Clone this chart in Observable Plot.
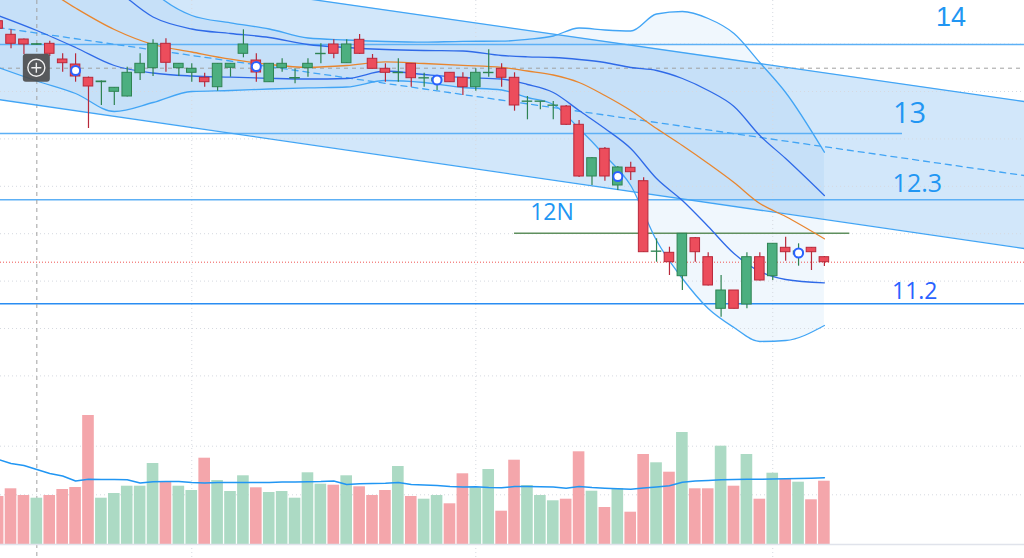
<!DOCTYPE html>
<html><head><meta charset="utf-8">
<script src="https://cdn.jsdelivr.net/npm/d3@7"></script>
<script src="https://cdn.jsdelivr.net/npm/@observablehq/plot@0.6"></script>
<style>
html,body{margin:0;padding:0;background:#fff;overflow:hidden}
#wrap{position:relative;width:1024px;height:558px}
#wrap svg{display:block}
</style></head><body><div id="wrap"></div>
<script>
// ---- candles (index 1..65) ----
const opens = [14.113,13.977,13.93,13.877,13.887,13.73,13.68,13.547,13.503,13.407,13.36,13.593,13.643,13.887,13.643,13.597,13.547,13.453,13.647,13.787,13.72,13.503,13.643,13.54,13.643,13.783,13.88,13.693,13.927,13.737,13.637,13.593,13.687,13.54,13.51,13.597,13.547,13.453,13.593,13.637,13.547,13.307,13.307,13.267,13.26,13.077,12.56,12.837,12.47,12.647,12.513,11.807,11.797,11.563,11.943,11.753,11.237,11.42,11.28,11.753,11.563,11.847,11.78,11.847,11.753];
const highs = [14.13,14.027,13.935,13.89,13.913,13.787,13.787,13.555,13.515,13.45,13.653,13.787,13.927,13.937,13.69,13.687,13.593,13.69,13.69,14.027,13.787,13.69,13.737,13.637,13.737,13.887,13.927,13.927,13.98,13.78,13.687,13.737,13.69,13.593,13.55,13.6,13.597,13.637,13.827,13.687,13.597,13.36,13.31,13.31,13.27,13.12,12.75,12.85,12.66,12.703,12.547,11.937,11.853,11.99,11.95,11.797,11.57,11.42,11.797,11.797,11.89,11.953,11.887,11.85,11.76];
const lows = [14.02,13.837,13.78,13.87,13.76,13.603,13.503,13.04,13.27,13.27,13.355,13.52,13.56,13.603,13.56,13.503,13.453,13.413,13.553,13.747,13.503,13.5,13.603,13.487,13.553,13.687,13.737,13.69,13.78,13.635,13.503,13.503,13.453,13.453,13.42,13.5,13.37,13.413,13.553,13.453,13.213,13.127,13.227,13.127,13.07,12.55,12.47,12.513,12.42,12.52,11.8,11.703,11.57,11.42,11.703,11.465,11.153,11.235,11.237,11.515,11.52,11.713,11.663,11.62,11.66];
const closes = [14.037,13.887,13.88,13.883,13.787,13.693,13.56,13.46,13.51,13.447,13.597,13.687,13.887,13.697,13.687,13.637,13.503,13.687,13.687,13.88,13.6,13.687,13.687,13.545,13.687,13.787,13.787,13.88,13.787,13.637,13.597,13.597,13.543,13.543,13.54,13.503,13.453,13.597,13.597,13.547,13.27,13.31,13.31,13.27,13.077,12.56,12.743,12.56,12.65,12.603,11.803,11.81,11.703,11.987,11.803,11.47,11.42,11.237,11.753,11.52,11.887,11.803,11.81,11.803,11.703];
const volumes = [480,557,490,463,490,550,570,1290,463,510,583,583,810,623,583,540,863,640,530,687,567,520,530,463,717,603,593,687,577,490,540,780,480,453,490,407,707,567,750,333,843,590,490,437,453,927,533,370,560,323,900,817,723,1120,557,557,983,583,900,453,713,650,623,447,633];
const volumeMA = [850,810,790,750,710,685,635,653,650,650,647,615,627,630,630,620,615,620,620,620,620,620,625,625,628,630,635,600,607,610,612,620,600,595,590,580,575,578,570,567,580,580,577,575,563,580,570,563,557,553,565,575,587,623,635,640,647,650,652,653,655,658,660,663,667];
const markerIdx = [7,21,35,49,63];

// ---- double Bollinger bands (sampled) ----
const bandIdx = [1,4,7,10,13,16,19,22,25,28,31,34,37,40,42,44,46,48,50,52,54,56,58,60,62,65];
const bbBasis = [14.72,14.49,14.245,14.03,13.88,13.805,13.733,13.68,13.652,13.67,13.707,13.69,13.672,13.652,13.615,13.575,13.50,13.37,13.22,13.04,12.87,12.69,12.50,12.29,12.16,11.937];
const bbOuterUpper = [15.72,15.47,15.10,14.85,14.41,14.17,14.097,14.035,13.945,13.925,13.91,13.903,13.912,13.913,13.932,13.965,14.045,14.025,14.015,14.185,14.21,14.14,13.99,13.70,13.40,12.803];
const bbInnerUpper = [15.25,14.98,14.67,14.44,14.155,14.035,13.99,13.95,13.88,13.85,13.83,13.82,13.815,13.77,13.757,13.75,13.73,13.70,13.65,13.62,13.54,13.42,13.26,12.97,12.74,12.37];
const bbInnerLower = [14.17,14.02,13.85,13.67,13.595,13.565,13.553,13.542,13.535,13.54,13.615,13.58,13.55,13.535,13.48,13.40,13.22,13.04,12.84,12.54,12.32,12.06,11.79,11.61,11.53,11.497];
const bbOuterLower = [13.65,13.515,13.39,13.21,13.30,13.41,13.42,13.435,13.447,13.455,13.52,13.50,13.45,13.425,13.35,13.28,13.04,12.77,12.47,11.92,11.54,11.24,11.05,10.91,10.92,11.07];

// ---- regression channel ----
const regIdx = [1, 81];
const regUpper = [14.78, 13.30];
const regMid = [14.05, 12.56];
const regLower = [13.33, 11.83];

// ---- horizontal levels & labels ----
const levelPrices = [13.88, 12.99, 12.327, 11.287];
const levelEnds = [81, 71.05, 81, 81];
const levelLabels = ["14", "13", "12.3", "11.2"];
const levelLabelIdx = [74.8, 71.6, 72.2, 72.0];
const levelLabelPrice = [14.156, 13.19, 12.49, 11.41];
const greenLevel = {price: 11.993, from: 41.0, to: 66.97, label: "12N", labelIdx: 43.9, labelPrice: 12.20};
const gridIdx = [16, 38, 61];
const gridPrices = [13.884, 13.41, 12.936, 12.462, 11.988, 11.514, 11.04, 10.566];
const volGrid = [497, 983];
const cross = {idx: 4, price: 13.643};

// ---- build tables ----
const candles = opens.map((o, k) => ({
  i: k + 1, open: o, high: highs[k], low: lows[k], close: closes[k],
  volume: volumes[k], vma: volumeMA[k], up: closes[k] >= o
}));
const bands = bandIdx.map((i, k) => ({i, basis: bbBasis[k], ou: bbOuterUpper[k], iu: bbInnerUpper[k], il: bbInnerLower[k], ol: bbOuterLower[k]}));
const reg = regIdx.map((i, k) => ({i, up: regUpper[k], mid: regMid[k], lo: regLower[k]}));
const levels = levelPrices.map((p, k) => ({p, end: levelEnds[k]}));
const labels = levelLabels.map((t, k) => ({t, i: levelLabelIdx[k], p: levelLabelPrice[k], size: [27, 29, 25, 23][k], color: k === 3 ? "#2962ff" : "#2196f3"}));
const markers = candles.filter(d => markerIdx.includes(d.i));

const UPF = "#4caf80", UPS = "#2e8352", DNF = "#ec4d5c", DNS = "#b8283a";
const xDom = [1.185, 80.5];
const FONT = "Open Sans, Liberation Sans, sans-serif";

const price = Plot.plot({
  width: 1024, height: 400, margin: 0,
  x: {domain: xDom, axis: null},
  y: {domain: [10.32, 14.32], axis: null},
  marks: [
    Plot.areaY(reg, {x: "i", y1: "lo", y2: "up", fill: "#1e88e5", fillOpacity: 0.2, clip: true}),
    Plot.areaY(bands, {x: "i", y1: "ol", y2: "ou", curve: "monotone-x", fill: "#1e88e5", fillOpacity: 0.065, clip: true}),
    Plot.ruleY(gridPrices, {stroke: "#d6d9e0", strokeDasharray: "1,3"}),
    Plot.ruleX(gridIdx, {stroke: "#d6d9e0", strokeDasharray: "1,3"}),
    Plot.ruleY(levels, {y: "p", x1: d => 0, x2: "end", stroke: (d, k) => k === 3 ? "#2a8df2" : "#5db0f5", strokeWidth: 1.6, clip: true}),
    Plot.ruleY([greenLevel], {y: "price", x1: "from", x2: "to", stroke: "#5f8f5e", strokeWidth: 1.6}),
    Plot.ruleY([cross], {y: "price", stroke: "#a0a0a0", strokeDasharray: "4,4"}),
    Plot.ruleX([cross], {x: "idx", stroke: "#a0a0a0", strokeDasharray: "4,4"}),
    Plot.ruleY([closes[closes.length - 1]], {stroke: "#ef5350", strokeDasharray: "1,2", strokeWidth: 1}),
    Plot.line(reg, {x: "i", y: "up", stroke: "#42a5f5", strokeWidth: 1.3, clip: true}),
    Plot.line(reg, {x: "i", y: "lo", stroke: "#42a5f5", strokeWidth: 1.3, clip: true}),
    Plot.line(reg, {x: "i", y: "mid", stroke: "#42a5f5", strokeWidth: 1.3, strokeDasharray: "6,5", clip: true}),
    Plot.line(bands, {x: "i", y: "ou", curve: "monotone-x", stroke: "#42a5f5", strokeWidth: 1.3, clip: true}),
    Plot.line(bands, {x: "i", y: "ol", curve: "monotone-x", stroke: "#42a5f5", strokeWidth: 1.3, clip: true}),
    Plot.line(bands, {x: "i", y: "iu", curve: "monotone-x", stroke: "#2f6ae8", strokeWidth: 1.3, clip: true}),
    Plot.line(bands, {x: "i", y: "il", curve: "monotone-x", stroke: "#2f6ae8", strokeWidth: 1.3, clip: true}),
    Plot.line(bands, {x: "i", y: "basis", curve: "monotone-x", stroke: "#e8862f", strokeWidth: 1.3, clip: true}),
    Plot.ruleX(candles, {x: "i", y1: "low", y2: "high", stroke: d => d.up ? UPS : DNS, strokeWidth: 1.2}),
    Plot.rect(candles, {x1: d => d.i - 0.37, x2: d => d.i + 0.37, y1: "open", y2: "close",
      fill: d => d.up ? UPF : DNF, stroke: d => d.up ? UPS : DNS, strokeWidth: 1}),
    Plot.dot(markers, {x: "i", y: d => (d.open + d.close) / 2, r: 4.5, fill: "white", stroke: "#2962ff", strokeWidth: 2}),
    Plot.text(labels.slice(0, 1), {x: "i", y: "p", text: "t", fontSize: d => d.size, fill: "color", fontFamily: "Liberation Sans, sans-serif"}),
    Plot.text(labels.slice(1), {x: "i", y: "p", text: "t", fontSize: d => d.size, fill: "color", fontFamily: FONT}),
    Plot.text([greenLevel], {x: "labelIdx", y: "labelPrice", text: "label", fontSize: 23, fill: "#2196f3", fontFamily: FONT})
  ]
});

const volume = Plot.plot({
  width: 1024, height: 158, margin: 0,
  x: {domain: xDom, axis: null},
  y: {domain: [-140, 1440], axis: null},
  marks: [
    Plot.ruleY(volGrid, {stroke: "#d6d9e0", strokeDasharray: "1,3"}),
    Plot.ruleX(gridIdx, {stroke: "#d6d9e0", strokeDasharray: "1,3"}),
    Plot.ruleX([cross], {x: "idx", stroke: "#a0a0a0", strokeDasharray: "4,4"}),
    Plot.rect(candles, {x1: d => d.i - 0.45, x2: d => d.i + 0.45, y1: d => 0, y2: "volume",
      fill: d => d.up ? "#acdac4" : "#f4a6ab", clip: true}),
    Plot.ruleY([0], {stroke: "#e0e3eb", strokeWidth: 1.5}),
    Plot.line(candles, {x: "i", y: "vma", stroke: "#2196f3", strokeWidth: 1.5, clip: true})
  ]
});

const wrap = document.getElementById("wrap");
wrap.appendChild(price);
wrap.appendChild(volume);

const cx = price.scale("x").apply(cross.idx), cy = price.scale("y").apply(cross.price);
const g = d3.select(price).append("g").attr("transform", `translate(${cx},${cy})`);
g.append("rect").attr("x", -13.5).attr("y", -14).attr("width", 27).attr("height", 28).attr("rx", 3).attr("fill", "#4a4a4a").attr("opacity", 0.9);
g.append("circle").attr("r", 8.5).attr("fill", "none").attr("stroke", "#f0f0f0").attr("stroke-width", 1.4);
g.append("path").attr("d", "M-5,0H5M0,-5V5").attr("stroke", "#f0f0f0").attr("stroke-width", 1.4);
</script></body></html>
